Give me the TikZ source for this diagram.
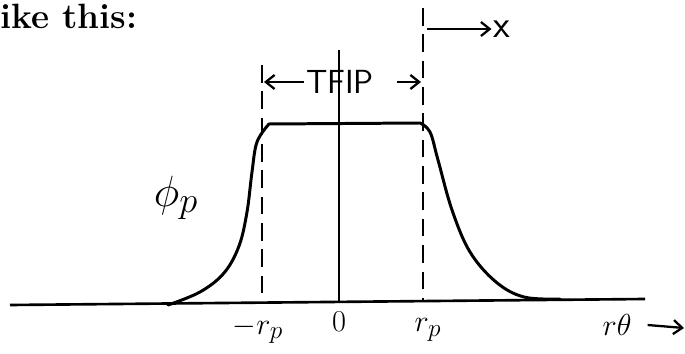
\documentclass[tikz,border=0pt]{standalone}
\usepackage{amsmath}
\usepackage{tikz}
\usetikzlibrary{arrows.meta,positioning}

\begin{document}
\begin{tikzpicture}[
    x=0.02cm, y=-0.02cm,
    profile/.style={line width=1.7pt, line join=round, line cap=round},
    axis/.style={line width=1.5pt},
    guide/.style={line width=1.1pt, dash pattern=on 10pt off 5pt},
    hand/.style={font=\sffamily\fontsize{19}{19}\selectfont, inner sep=1pt},
    lbl/.style={font=\fontsize{19}{19}\selectfont, inner sep=1pt},
    arrow/.style={-{Straight Barb[length=5pt,width=8pt]}, line width=1.3pt}
]
\useasboundingbox (0,0) rectangle (685,354);

% Heading
\node[anchor=west, font=\bfseries\fontsize{20}{20}\selectfont, inner sep=0pt] (intro) at (0,16) {ike this:};

% Axis and guides
\coordinate (axL) at (10,305);
\coordinate (axR) at (645,299);
\draw[axis] (axL) -- (axR);
\coordinate (ctrTop) at (339,50);
\coordinate (ctrBot) at (339,303);
\draw[line width=1pt] (ctrTop) -- (ctrBot);
\coordinate (rpTop) at (423,8);
\coordinate (rpBot) at (423,301);
\draw[guide] (rpTop) -- (rpBot);
\coordinate (mrpTop) at (262,65);
\coordinate (mrpBot) at (262,304);
\draw[guide] (mrpTop) -- (mrpBot);

% Profile
\draw[profile] plot[smooth, tension=0.6] coordinates {
  (168,305) (200,292) (224,273) (239,246) (247,212) (252,172) (257,142) (269,124)}
  -- (420,123)
  plot[smooth, tension=0.6] coordinates {
  (420,123) (430,132) (438,160) (452,210) (470,252) (496,282) (524,297) (560,299)};

% Width marker
\node[hand] (tfip) at (340,82) {TFIP};
\coordinate (tfipL) at (264,82);
\coordinate (tfipR) at (421,82);
\draw[arrow] (tfip.west) -- (tfipL);
\draw[arrow] ([xshift=12]tfip.east) -- (tfipR);

% Direction x
\node[hand, font=\sffamily\fontsize{22}{22}\selectfont] (xdir) at (502,29) {x};
\coordinate (xstart) at (427,29);
\draw[arrow] (xstart) -- (xdir.west);

% Labels
\node[font=\fontsize{32}{32}\selectfont] (phi) at (176,198) {$\phi_p$};
\node[lbl] (mrp) at (258,330) {$-r_p$};
\node[lbl] (zero) at (339,322) {$0$};
\node[lbl] (rp) at (428,330) {$r_p$};
\node[lbl] (rtheta) at (617,325) {$r\theta$};
\coordinate (rtEnd) at (684,328);
\draw[arrow] ([xshift=8]rtheta.east) -- (rtEnd);

\end{tikzpicture}
\end{document}
